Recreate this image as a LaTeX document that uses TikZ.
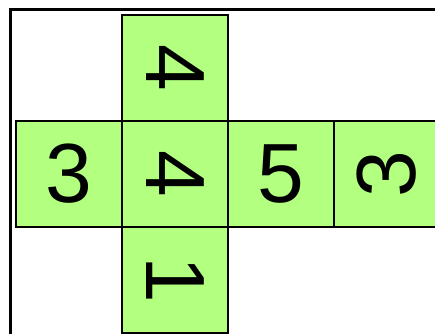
\documentclass[tikz,border=0pt]{standalone}
\usepackage{fontspec}
\setmainfont{Liberation Sans}
\definecolor{facegreen}{RGB}{179,255,128}
\begin{document}
\begin{tikzpicture}[x=0.75pt,y=-0.75pt,
  face/.style={draw=black,line width=1.8pt,fill=facegreen,
    minimum width=79.5pt,minimum height=79.5pt,inner sep=0pt,
    font=\fontsize{63}{63}\selectfont},
  frame/.style={draw=black,line width=1.8pt}]
\useasboundingbox (0,0) rectangle (435,333);
\clip (0,0) rectangle (435,333);
\coordinate (ftop) at (445,9.5);
\coordinate (fbot) at (10.5,345);
\draw[frame] (fbot) |- (ftop);
\node[face] (top) at (175,68) {\rotatebox{-90}{4}};
\node[face] (left) at (69,174) {3};
\node[face] (mid) at (175,174) {\rotatebox{-90}{4}};
\node[face] (right) at (281,174) {5};
\node[face] (far) at (387,174) {\rotatebox{90}{3}};
\node[face] (bot) at (175,280) {\rotatebox{-90}{1}};
\end{tikzpicture}
\end{document}
